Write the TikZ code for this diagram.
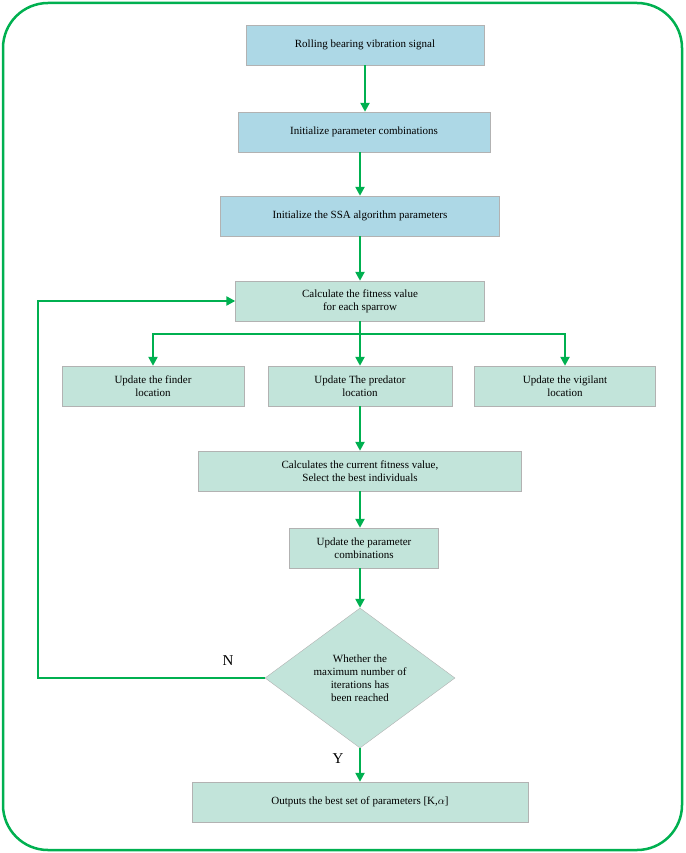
\documentclass[tikz,border=0pt]{standalone}
\usepackage{fontspec}
\setmainfont{Liberation Serif}
\usetikzlibrary{positioning,arrows.meta,shapes.geometric}
\definecolor{lineGreen}{RGB}{0,176,80}
\definecolor{boxBlue}{RGB}{173,216,230}
\definecolor{boxTeal}{RGB}{194,228,218}

\begin{document}
\begin{tikzpicture}[x=1pt,y=-1pt,
    box/.style={rectangle, draw=gray!60, fill=boxTeal, align=center, font=\fontsize{11}{13}\selectfont, inner sep=2pt},
    bluebox/.style={box, fill=boxBlue},
    decision/.style={diamond, draw=gray!60, fill=boxTeal, align=center, font=\fontsize{11}{13}\selectfont, minimum width=190pt, minimum height=140pt, inner sep=0pt},
    flow/.style={-{Triangle[length=9pt,width=9pt]}, draw=lineGreen, line width=2.5pt}
    ]
        \useasboundingbox (0,0) rectangle (685,853);
        \draw[lineGreen, line width=2.5pt, rounded corners=45pt] (3,3) rectangle (682,850);

        %Nodes
        \node[bluebox, minimum width=238pt, minimum height=40pt] (sig)  at (365,45)  {Rolling bearing vibration signal};
        \node[bluebox, minimum width=252pt, minimum height=40pt] (init) at (364,132) {Initialize parameter combinations};
        \node[bluebox, minimum width=279pt, minimum height=40pt] (ssa)  at (360,216) {Initialize the SSA algorithm parameters};
        \node[box, minimum width=249pt, minimum height=40pt] (fit)  at (360,301) {Calculate the fitness value\\for each sparrow};
        \node[box, minimum width=182pt, minimum height=40pt] (find) at (153,386) {Update the finder\\location};
        \node[box, minimum width=184pt, minimum height=40pt] (pred) at (360,386) {Update The predator\\location};
        \node[box, minimum width=181pt, minimum height=40pt] (vig)  at (565,386) {Update the vigilant\\location};
        \node[box, minimum width=323pt, minimum height=40pt] (best) at (360,471) {Calculates the current fitness value,\\Select the best individuals};
        \node[box, minimum width=149pt, minimum height=40pt] (upd)  at (364,548) {Update the parameter\\combinations};
        \node[decision] (dec) at (360,678) {Whether the\\maximum number of\\iterations has\\been reached};
        \node[box, minimum width=336pt, minimum height=40pt] (out)  at (360,802) {Outputs the best set of parameters [K,$\alpha$]};
        \coordinate (split) at (360,334);
        \coordinate (back) at (38,678);

        %Lines
        \draw[flow] (sig) -- (sig |- init.north);
        \draw[flow] (init.south -| ssa) -- (ssa);
        \draw[flow] (ssa) -- (fit);
        \draw[draw=lineGreen, line width=2.5pt] (fit) -- (split);
        \draw[flow] (split) -| (find);
        \draw[flow] (split) -| (vig);
        \draw[flow] (split) -- (pred);
        \draw[flow] (pred) -- (best);
        \draw[flow] (best) -- (best |- upd.north);
        \draw[flow] (upd.south -| dec) -- (dec);
        \draw[flow] (dec.west) -- (back) |- (fit.west);
        \draw[flow] (dec) -- node[left=12pt, pos=0.3, font=\fontsize{15}{17}\selectfont] {Y} (out);
        \node[font=\fontsize{15}{17}\selectfont] (nlab) at (228,661) {N};
    \end{tikzpicture}
\end{document}
